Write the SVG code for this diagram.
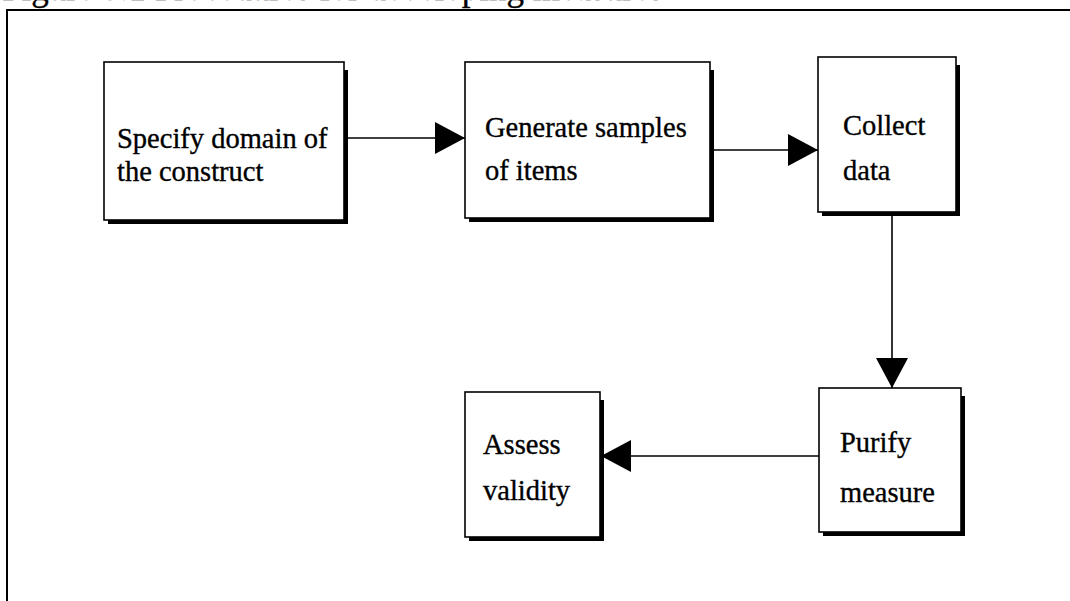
<svg xmlns="http://www.w3.org/2000/svg" width="1070" height="601" viewBox="0 0 1070 601">
  <style>
    .frame { fill: none; stroke: #000; stroke-width: 2; }
    .box { fill: #fff; stroke: #000; stroke-width: 1.6; }
    .shadow { fill: #000; }
    .label { font-family: "Liberation Serif", "Times New Roman", serif; font-size: 28.5px; fill: #000; stroke: #000; stroke-width: 0.35; }
    .title { font-family: "Liberation Serif", "Times New Roman", serif; font-size: 35px; fill: #000; stroke: #000; stroke-width: 0.35; }
    .link { stroke: #000; stroke-width: 1.6; fill: none; marker-end: url(#head); }
  </style>
  <defs>
    <marker id="head" markerUnits="userSpaceOnUse" viewBox="0 0 30 32" refX="30" refY="16" markerWidth="30" markerHeight="32" orient="auto">
      <path d="M0,0 L30,16 L0,32 Z" fill="#000"/>
    </marker>
  </defs>

  <rect width="1070" height="601" fill="#fff"/>

  <!-- caption, clipped by the top edge -->
  <text class="title" x="2" y="0">Figure 3.1 Procedures for developing measures</text>

  <!-- outer frame -->
  <path class="frame" d="M7,601 V10 H1070"/>

  <!-- connectors -->
  <g id="connectors">
    <line class="link" x1="345" y1="138" x2="465" y2="138"/>
    <line class="link" x1="713" y1="150" x2="818" y2="150"/>
    <line class="link" x1="892" y1="213" x2="892" y2="388"/>
    <line class="link" x1="819" y1="456" x2="601" y2="456"/>
  </g>

  <g id="specify-domain">
    <path class="shadow" d="M344,70 H348 V224 H108 V220 H344 Z"/>
    <rect class="box" x="104" y="62" width="240" height="158"/>
    <text class="label" x="117" y="148">Specify domain of</text>
    <text class="label" x="117" y="181">the construct</text>
  </g>

  <g id="generate-samples">
    <path class="shadow" d="M710,70 H714 V222 H469 V218 H710 Z"/>
    <rect class="box" x="465" y="62" width="245" height="156"/>
    <text class="label" x="485" y="137">Generate samples</text>
    <text class="label" x="485" y="180">of items</text>
  </g>

  <g id="collect-data">
    <path class="shadow" d="M956,65 H960 V216 H822 V212 H956 Z"/>
    <rect class="box" x="818" y="57" width="138" height="155"/>
    <text class="label" x="843" y="135">Collect</text>
    <text class="label" x="843" y="180">data</text>
  </g>

  <g id="purify-measure">
    <path class="shadow" d="M961,396 H965 V536 H823 V532 H961 Z"/>
    <rect class="box" x="819" y="388" width="142" height="144"/>
    <text class="label" x="840" y="452">Purify</text>
    <text class="label" x="840" y="502">measure</text>
  </g>

  <g id="assess-validity">
    <path class="shadow" d="M600,400 H604 V541 H469 V537 H600 Z"/>
    <rect class="box" x="465" y="392" width="135" height="145"/>
    <text class="label" x="483" y="454">Assess</text>
    <text class="label" x="483" y="500">validity</text>
  </g>
</svg>
